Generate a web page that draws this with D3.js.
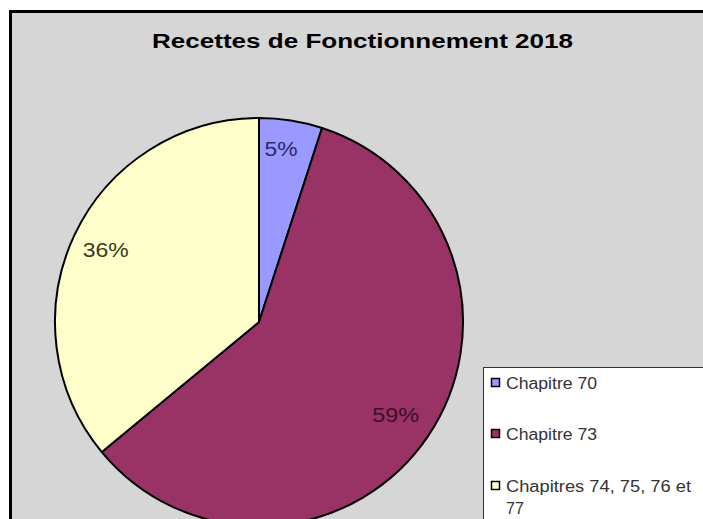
<!DOCTYPE html>
<html><head><meta charset="utf-8">
<script src="https://cdn.jsdelivr.net/npm/d3@7"></script>
<style>body{margin:0;background:#fff;overflow:hidden}svg{display:block}</style>
</head><body>
<svg id="c" width="703" height="519"></svg>
<script>
const title = "Recettes de Fonctionnement 2018";
const categories = ["Chapitre 70", "Chapitre 73", "Chapitres 74, 75, 76 et 77"];
const values = [5, 59, 36];
const labels = ["5%", "59%", "36%"];
const colors = ["#9999ff", "#993366", "#ffffcc"];
const labelColors = ["#2b2b66", "#3d0f26", "#3a3a1a"];

const FONT = "Liberation Sans, Arial, sans-serif";
const svg = d3.select("#c");
// chart frame
svg.append("rect").attr("x", 10.5).attr("y", 11.5).attr("width", 720).attr("height", 540)
  .attr("fill", "#d6d6d6").attr("stroke", "#000").attr("stroke-width", 3);

svg.append("text").attr("x", 362.5).attr("y", 48).attr("text-anchor", "middle")
  .attr("font-family", FONT).attr("font-weight", "bold")
  .attr("font-size", 20).attr("fill", "#000")
  .attr("textLength", 421).attr("lengthAdjust", "spacingAndGlyphs").text(title);

const cx = 259, cy = 322, r = 204;
const pie = d3.pie().sort(null).value(d => d);
const arcs = pie(values);
const arc = d3.arc().innerRadius(0).outerRadius(r);
const g = svg.append("g").attr("transform", `translate(${cx},${cy})`);
g.selectAll("path").data(arcs).join("path")
  .attr("d", arc).attr("fill", (d, i) => colors[i])
  .attr("stroke", "#000").attr("stroke-width", 2).attr("stroke-linejoin", "round");

const labelR = [0.855, 0.81, 0.83];
const labelW = [33, 47, 46];
arcs.forEach((d, i) => {
  const rr = r * labelR[i];
  const a = (d.startAngle + d.endAngle) / 2 - (i === 0 ? 0.03 : 0);
  g.append("text").attr("x", rr * Math.sin(a)).attr("y", -rr * Math.cos(a))
    .attr("text-anchor", "middle").attr("dominant-baseline", "central")
    .attr("font-family", FONT).attr("font-size", 20)
    .attr("textLength", labelW[i]).attr("lengthAdjust", "spacingAndGlyphs")
    .attr("fill", labelColors[i]).text(labels[i]);
});

// legend
const lg = svg.append("g");
lg.append("rect").attr("x", 483.5).attr("y", 367.5).attr("width", 300).attr("height", 200)
  .attr("fill", "#fff").attr("stroke", "#333").attr("stroke-width", 1);
const rowY = [383, 434, 486];
const rowW = [91, 91, 185];
categories.forEach((c, i) => {
  lg.append("rect").attr("x", 491.5).attr("y", rowY[i] - 4.5).attr("width", 8).attr("height", 8)
    .attr("fill", colors[i]).attr("stroke", "#000").attr("stroke-width", 1.5);
  const t = lg.append("text").attr("y", rowY[i] + 6)
    .attr("font-family", FONT).attr("font-size", 16).attr("fill", "#333");
  if (i === 2) {
    t.append("tspan").attr("x", 506).attr("textLength", rowW[i]).attr("lengthAdjust", "spacingAndGlyphs").text("Chapitres 74, 75, 76 et");
    t.append("tspan").attr("x", 506).attr("dy", 22).text("77");
  } else t.attr("x", 506).attr("textLength", rowW[i]).attr("lengthAdjust", "spacingAndGlyphs").text(c);
});
</script>
</body></html>
